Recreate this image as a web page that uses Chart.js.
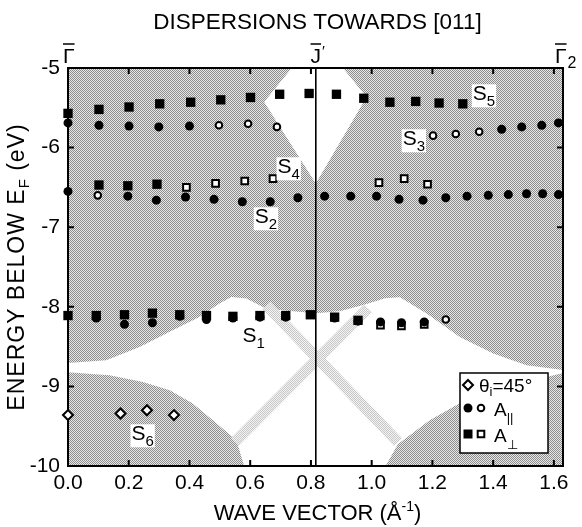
<!DOCTYPE html>
<html>
  <head>
    <meta charset="utf-8">
    <title>dispersions</title>
    <script src="https://cdn.jsdelivr.net/npm/chart.js@4.4.1/dist/chart.umd.min.js"></script>
    <style>
      body { margin: 0; background: #ffffff; }
    </style>
  </head>
  <body>
    <canvas id="myChart" width="582" height="527"></canvas>
  <script>
    // axis ticks
    const xTicks = [0, 0.2, 0.4, 0.6, 0.8, 1.0, 1.2, 1.4, 1.6];
    const yTicks = [-5, -6, -7, -8, -9, -10];
    const xMax = 1.63;
    const jPrime = 0.816;

    // A|| filled circles
    const parFilledX = [0, 0.102, 0.201, 0.299, 0.40, 1.428, 1.494, 1.56, 1.615,
      0, 0.197, 0.291, 0.387, 0.481, 0.574, 0.666, 0.757, 0.845, 0.931, 1.016, 1.09, 1.169, 1.244, 1.314, 1.384, 1.45, 1.51, 1.563, 1.615,
      0.093, 0.186, 0.278, 0.368, 0.456, 0.543, 0.632, 0.717, 0.878, 0.955, 1.029, 1.098, 1.173];
    const parFilledY = [-5.69, -5.72, -5.73, -5.74, -5.73, -5.77, -5.74, -5.72, -5.69,
      -6.55, -6.61, -6.66, -6.62, -6.65, -6.68, -6.68, -6.63, -6.61, -6.61, -6.61, -6.65, -6.66, -6.63, -6.61, -6.60, -6.59, -6.58, -6.58, -6.59,
      -8.14, -8.22, -8.20, -8.12, -8.16, -8.14, -8.13, -8.13, -8.14, -8.18, -8.19, -8.20, -8.19];
    // A|| open circles
    const parOpenX = [0.497, 0.593, 0.688, 1.202, 1.277, 1.354, 0.098, 1.244];
    const parOpenY = [-5.72, -5.70, -5.74, -5.85, -5.83, -5.80, -6.60, -8.16];
    // A-perp filled squares
    const perpFilledX = [0, 0.102, 0.201, 0.302, 0.404, 0.503, 0.601, 0.697, 0.794, 0.884, 0.974, 1.06, 1.145, 1.222, 1.30,
      0.102, 0.197, 0.293,
      0, 0.093, 0.186, 0.278, 0.368, 0.456, 0.543, 0.632, 0.717, 0.798, 0.878, 0.955];
    const perpFilledY = [-5.57, -5.52, -5.49, -5.45, -5.43, -5.40, -5.37, -5.33, -5.32, -5.33, -5.38, -5.43, -5.42, -5.44, -5.45,
      -6.47, -6.48, -6.46,
      -8.11, -8.11, -8.10, -8.08, -8.10, -8.11, -8.12, -8.11, -8.11, -8.10, -8.13, -8.17];
    // A-perp open squares
    const perpOpenX = [0.39, 0.486, 0.582, 0.675, 1.024, 1.107, 1.184, 1.029, 1.098, 1.173];
    const perpOpenY = [-6.50, -6.45, -6.42, -6.39, -6.44, -6.39, -6.46, -8.23, -8.24, -8.22];
    // theta_i = 45 deg
    const thetaX = [0, 0.173, 0.26, 0.349];
    const thetaY = [-9.36, -9.34, -9.30, -9.36];

    // state labels
    const stateNames = ['1', '2', '3', '4', '5', '6'];
    const stateX = [0.575, 0.615, 1.102, 0.69, 1.333, 0.209];
    const stateY = [-8.446, -6.951, -5.971, -6.323, -5.406, -9.677];

    // projected bulk band gaps (white) and bulk band edges
    const gapTopX = [0.741, 0.901, 0.983, 0.816, 0.646];
    const gapTopY = [-4.98, -4.98, -5.364, -6.452, -5.427];
    const gapLowX = [-0.01, 0.126, 0.236, 0.345, 0.433, 0.499, 0.538, 0.587, 0.653, 0.741, 0.816, 0.895, 0.981, 1.044, 1.093, 1.181, 1.29, 1.40, 1.51, 1.64,
      1.64, 1.422, 1.29, 1.191, 1.086, 1.043, 0.582, 0.554, 0.477, 0.411, 0.335, 0.247, 0.137, -0.01];
    const gapLowY = [-8.71, -8.672, -8.505, -8.295, -8.128, -7.96, -7.877, -7.897, -8.023, -8.056, -8.082, -8.056, -7.969, -7.894, -7.881, -8.085, -8.379, -8.588, -8.735, -8.798,
      -8.823, -9.024, -9.212, -9.426, -9.727, -10.02, -10.02, -9.673, -9.426, -9.216, -9.049, -8.945, -8.861, -8.819];
    const edgeAX = [0.653, 1.087], edgeAY = [-7.98, -9.70];
    const edgeBX = [0.988, 0.549], edgeBY = [-8.02, -9.70];

    const FONT = "'Liberation Sans', Arial, Helvetica, sans-serif";
    const canvas = document.getElementById('myChart');

    function pts(xs, ys) {
      return xs.map(function (x, i) { return {x: x, y: ys[i]}; });
    }

    function stipple(dark, light) {
      const c = document.createElement('canvas');
      c.width = 2; c.height = 2;
      const g = c.getContext('2d');
      g.fillStyle = light; g.fillRect(0, 0, 2, 2);
      g.fillStyle = dark; g.fillRect(0, 0, 1, 1); g.fillRect(1, 1, 1, 1);
      return canvas.getContext('2d').createPattern(c, 'repeat');
    }
    const darkFill = stipple('#8c8c8c', '#e8e8e8');
    const lightFill = stipple('#c6c6c6', '#f4f4f4');

    // text made of pieces: [text, size, dy]
    function drawRuns(ctx, parts, x, y, align) {
      let w = 0;
      parts.forEach(function (p) { ctx.font = p[1] + 'px ' + FONT; w += ctx.measureText(p[0]).width; });
      let cx = align === 'center' ? x - w / 2 : x;
      parts.forEach(function (p) {
        ctx.font = p[1] + 'px ' + FONT;
        ctx.fillText(p[0], cx, y + p[2]);
        cx += ctx.measureText(p[0]).width;
      });
      return w;
    }

    function marker(ctx, style, x, y, filled) {
      ctx.beginPath();
      if (style === 'circle') ctx.arc(x, y, filled ? 4.5 : 3.3, 0, Math.PI * 2);
      if (style === 'rect') { const s = filled ? 4.5 : 3.3; ctx.rect(x - s, y - s, 2 * s, 2 * s); }
      if (style === 'diamond') { ctx.moveTo(x, y - 5); ctx.lineTo(x + 5, y); ctx.lineTo(x, y + 5); ctx.lineTo(x - 5, y); ctx.closePath(); }
      ctx.fillStyle = filled ? '#000' : '#fff';
      ctx.fill();
      if (!filled) { ctx.lineWidth = 2; ctx.strokeStyle = '#000'; ctx.stroke(); }
    }

    const figurePlugin = {
      id: 'figure',
      beforeDatasetsDraw: function (chart) {
        const ctx = chart.ctx, a = chart.chartArea;
        const sx = chart.scales.x, sy = chart.scales.y;
        const poly = function (xs, ys) {
          ctx.beginPath();
          xs.forEach(function (v, i) {
            const px = sx.getPixelForValue(v), py = sy.getPixelForValue(ys[i]);
            if (i === 0) ctx.moveTo(px, py); else ctx.lineTo(px, py);
          });
        };
        ctx.save();
        ctx.beginPath();
        ctx.rect(a.left, a.top, a.right - a.left, a.bottom - a.top);
        ctx.clip();
        ctx.fillStyle = darkFill;
        ctx.fillRect(a.left, a.top, a.right - a.left, a.bottom - a.top);
        ctx.fillStyle = '#ffffff';
        poly(gapTopX, gapTopY); ctx.closePath(); ctx.fill();
        poly(gapLowX, gapLowY); ctx.closePath(); ctx.fill();
        ctx.strokeStyle = lightFill;
        ctx.lineWidth = 11;
        poly(edgeAX, edgeAY); ctx.stroke();
        poly(edgeBX, edgeBY); ctx.stroke();
        ctx.restore();

        ctx.save();
        ctx.strokeStyle = '#000';
        // J' line
        ctx.lineWidth = 1.6;
        const jx = sx.getPixelForValue(jPrime);
        ctx.beginPath(); ctx.moveTo(jx, a.top); ctx.lineTo(jx, a.bottom); ctx.stroke();
        // frame
        ctx.lineWidth = 2;
        ctx.strokeRect(a.left, a.top, a.right - a.left, a.bottom - a.top);
        // inward ticks
        ctx.beginPath();
        xTicks.forEach(function (v) {
          const px = sx.getPixelForValue(v);
          ctx.moveTo(px, a.bottom); ctx.lineTo(px, a.bottom - 6);
          ctx.moveTo(px, a.top); ctx.lineTo(px, a.top + 6);
        });
        yTicks.forEach(function (v) {
          const py = sy.getPixelForValue(v);
          ctx.moveTo(a.left, py); ctx.lineTo(a.left + 6, py);
          ctx.moveTo(a.right, py); ctx.lineTo(a.right - 6, py);
        });
        ctx.stroke();
        ctx.restore();
      },
      afterDatasetsDraw: function (chart) {
        const ctx = chart.ctx, a = chart.chartArea;
        const sx = chart.scales.x, sy = chart.scales.y;
        ctx.save();
        ctx.textBaseline = 'alphabetic';
        ctx.textAlign = 'left';

        // state labels with white backing
        stateNames.forEach(function (n, i) {
          const px = sx.getPixelForValue(stateX[i]), py = sy.getPixelForValue(stateY[i]);
          ctx.font = '21px ' + FONT;
          const w1 = ctx.measureText('S').width;
          ctx.font = '15px ' + FONT;
          const w2 = ctx.measureText(n).width;
          ctx.fillStyle = '#fff';
          ctx.fillRect(px - 1, py - 16, w1 + w2 + 2, 23);
          ctx.fillStyle = '#000';
          drawRuns(ctx, [['S', 21, 0], [n, 15, 6]], px, py, 'left');
        });

        // legend box
        const lx = a.right - 103, ly = a.bottom - 93;
        ctx.fillStyle = '#fff';
        ctx.fillRect(lx, ly, 88, 80);
        ctx.lineWidth = 1.5;
        ctx.strokeStyle = '#000';
        ctx.strokeRect(lx, ly, 88, 80);
        marker(ctx, 'diamond', lx + 8, ly + 12, false);
        marker(ctx, 'circle', lx + 8, ly + 35, true);
        marker(ctx, 'circle', lx + 21, ly + 35, false);
        marker(ctx, 'rect', lx + 8, ly + 61, true);
        marker(ctx, 'rect', lx + 21, ly + 61, false);
        ctx.fillStyle = '#000';
        drawRuns(ctx, [['\u03b8', 19, 0], ['i', 13, 4], ['=45\u00b0', 19, 0]], lx + 19, ly + 19, 'left');
        drawRuns(ctx, [['A', 19, 0], ['||', 13, 6]], lx + 34, ly + 43, 'left');
        drawRuns(ctx, [['A', 19, 0], ['\u22a5', 13, 7]], lx + 34, ly + 69, 'left');
        ctx.restore();
      },
      afterDraw: function (chart) {
        const ctx = chart.ctx, a = chart.chartArea;
        const sx = chart.scales.x;
        ctx.save();
        ctx.fillStyle = '#000';
        ctx.strokeStyle = '#000';
        ctx.textBaseline = 'alphabetic';
        // title
        drawRuns(ctx, [['DISPERSIONS TOWARDS [011]', 22.5, 0]], (a.left + a.right) / 2 + 2, 29, 'center');

        // symmetry points with bars
        const bar = function (x0, w) {
          ctx.lineWidth = 1.5;
          ctx.beginPath(); ctx.moveTo(x0, 44); ctx.lineTo(x0 + w, 44); ctx.stroke();
        };
        ctx.font = '21px ' + FONT;
        const gw = ctx.measureText('\u0393').width;
        const g0 = sx.getPixelForValue(0) - 5;
        ctx.fillText('\u0393', g0, 63); bar(g0, gw);
        const jw = ctx.measureText('J').width;
        const j0 = sx.getPixelForValue(jPrime) - jw / 2;
        ctx.fillText('J', j0, 63); bar(j0, jw);
        ctx.font = '15px ' + FONT;
        ctx.fillText('\u2032', j0 + jw + 1, 56);
        const r0 = a.right - 8;
        ctx.font = '21px ' + FONT;
        ctx.fillText('\u0393', r0, 63); bar(r0, gw);
        ctx.font = '16px ' + FONT;
        ctx.fillText('2', r0 + gw + 1, 68);

        // axis titles
        drawRuns(ctx, [['WAVE VECTOR (\u00c5', 22, 0], ['-1', 14, -9], [')', 22, 0]], (a.left + a.right) / 2 + 2, 520, 'center');
        ctx.translate(24, (a.top + a.bottom) / 2);
        ctx.rotate(-Math.PI / 2);
        ctx.letterSpacing = '1px';
        drawRuns(ctx, [['ENERGY BELOW E', 23, 0], ['F', 15, 5], [' (eV)', 23, 0]], 0, 0, 'center');
        ctx.restore();
      }
    };

    const tickFont = {family: FONT, size: 21};

    new Chart(canvas.getContext('2d'), {
      type: 'scatter',
      data: {
        datasets: [
          {data: pts(parFilledX, parFilledY), pointStyle: 'circle', pointRadius: 4.5, backgroundColor: '#000', borderColor: '#000', borderWidth: 0},
          {data: pts(perpFilledX, perpFilledY), pointStyle: 'rect', pointRadius: 6.6, backgroundColor: '#000', borderColor: '#000', borderWidth: 0},
          {data: pts(parOpenX, parOpenY), pointStyle: 'circle', pointRadius: 3.3, backgroundColor: '#fff', borderColor: '#000', borderWidth: 2},
          {data: pts(perpOpenX, perpOpenY), pointStyle: 'rect', pointRadius: 4.7, backgroundColor: '#fff', borderColor: '#000', borderWidth: 2},
          {data: pts(thetaX, thetaY), pointStyle: 'rectRot', pointRadius: 5, backgroundColor: '#fff', borderColor: '#000', borderWidth: 2}
        ]
      },
      options: {
        responsive: false,
        animation: false,
        events: [],
        devicePixelRatio: 1,
        layout: {padding: {left: 0, right: 19, top: 68, bottom: 0}},
        elements: {point: {hoverRadius: 0}},
        datasets: {scatter: {clip: false}},
        plugins: {legend: {display: false}, tooltip: {enabled: false}, title: {display: false}},
        scales: {
          x: {
            type: 'linear', min: 0, max: xMax,
            afterBuildTicks: function (s) { s.ticks = xTicks.map(function (v) { return {value: v}; }); },
            afterFit: function (s) { s.height = 61; },
            grid: {display: false, drawTicks: false},
            border: {display: false},
            ticks: {font: tickFont, color: '#000', padding: 5, maxRotation: 0, autoSkip: false,
              callback: function (v) { return Number(v).toFixed(1); }}
          },
          y: {
            type: 'linear', min: -10, max: -5,
            afterBuildTicks: function (s) { s.ticks = yTicks.map(function (v) { return {value: v}; }); },
            afterFit: function (s) { s.width = 68; },
            grid: {display: false, drawTicks: false},
            border: {display: false},
            ticks: {font: tickFont, color: '#000', padding: 8, autoSkip: false,
              callback: function (v) { return String(v); }}
          }
        }
      },
      plugins: [figurePlugin]
    });
  </script>
  </body>
</html>
